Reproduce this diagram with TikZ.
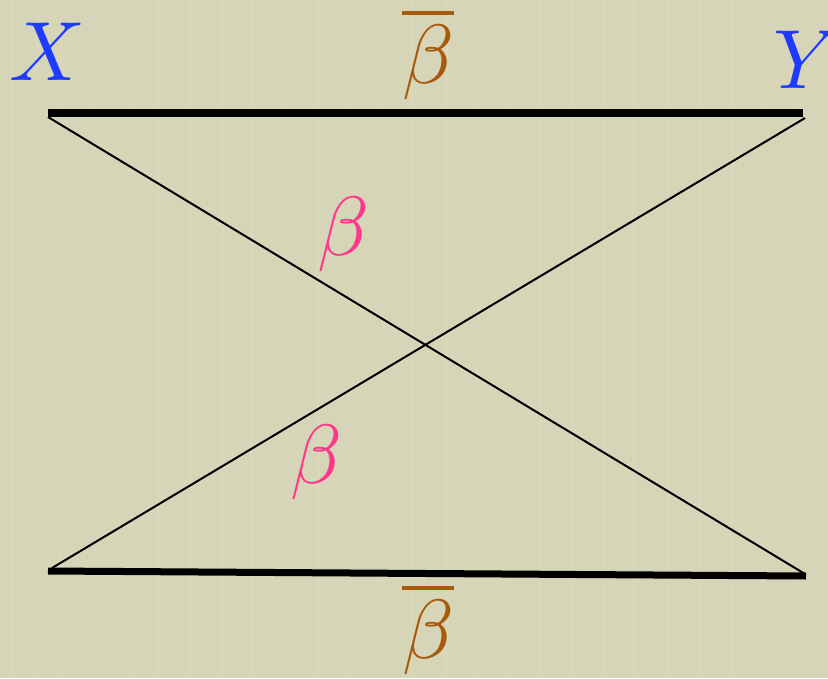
\documentclass[tikz,border=0pt]{standalone}
\usepackage{graphicx}
\usepackage{amsmath}
\definecolor{bgc}{RGB}{214,213,184}
\definecolor{lblblue}{RGB}{30,60,255}
\definecolor{lblbrown}{RGB}{168,90,12}
\definecolor{lblpink}{RGB}{255,55,140}
\newcommand{\bigmath}[1]{\scalebox{8.4}{$#1$}}
\begin{document}
\begin{tikzpicture}[x=1pt,y=-1pt,
  thickedge/.style={line width=8pt,black},
  thinedge/.style={line width=2pt,black},
  lbl/.style={inner sep=0pt,anchor=base}]
\fill[bgc] (0,0) rectangle (828,678);
\useasboundingbox (0,0) rectangle (828,678);
\foreach \x in {12,37,61,95,130,158,190,222,251,287,318,349,383,411,446,477,509,540,572,604,633,668,699,731,760,792,815}
  \draw[white,opacity=0.06,line width=3pt] (\x,0) -- (\x,678);
\coordinate (tl) at (48,113);
\coordinate (tr) at (803,113);
\coordinate (bl) at (48,571);
\coordinate (br) at (806,576);
\coordinate (tlx) at (48,117);
\coordinate (trx) at (805,118);
\coordinate (blx) at (52,568);
\coordinate (brx) at (805,574);
\draw[thickedge] (tl) -- (tr);
\draw[line width=7pt] (bl) -- (br);
\draw[thinedge] (tlx) -- (brx);
\draw[thinedge] (trx) -- (blx);
\node[lbl,text=lblblue] (X) at (48,80) {\bigmath{X}};
\node[lbl,text=lblblue] (Y) at (807,88) {\bigmath{Y}};
\node[lbl,text=lblbrown] (bt) at (428,83) {\bigmath{\overline{\beta}}};
\node[lbl,text=lblbrown] (bb) at (428,658) {\bigmath{\overline{\beta}}};
\node[lbl,text=lblpink] (b1) at (343,255) {\bigmath{\beta}};
\node[lbl,text=lblpink] (b2) at (316,483) {\bigmath{\beta}};
\end{tikzpicture}
\end{document}
